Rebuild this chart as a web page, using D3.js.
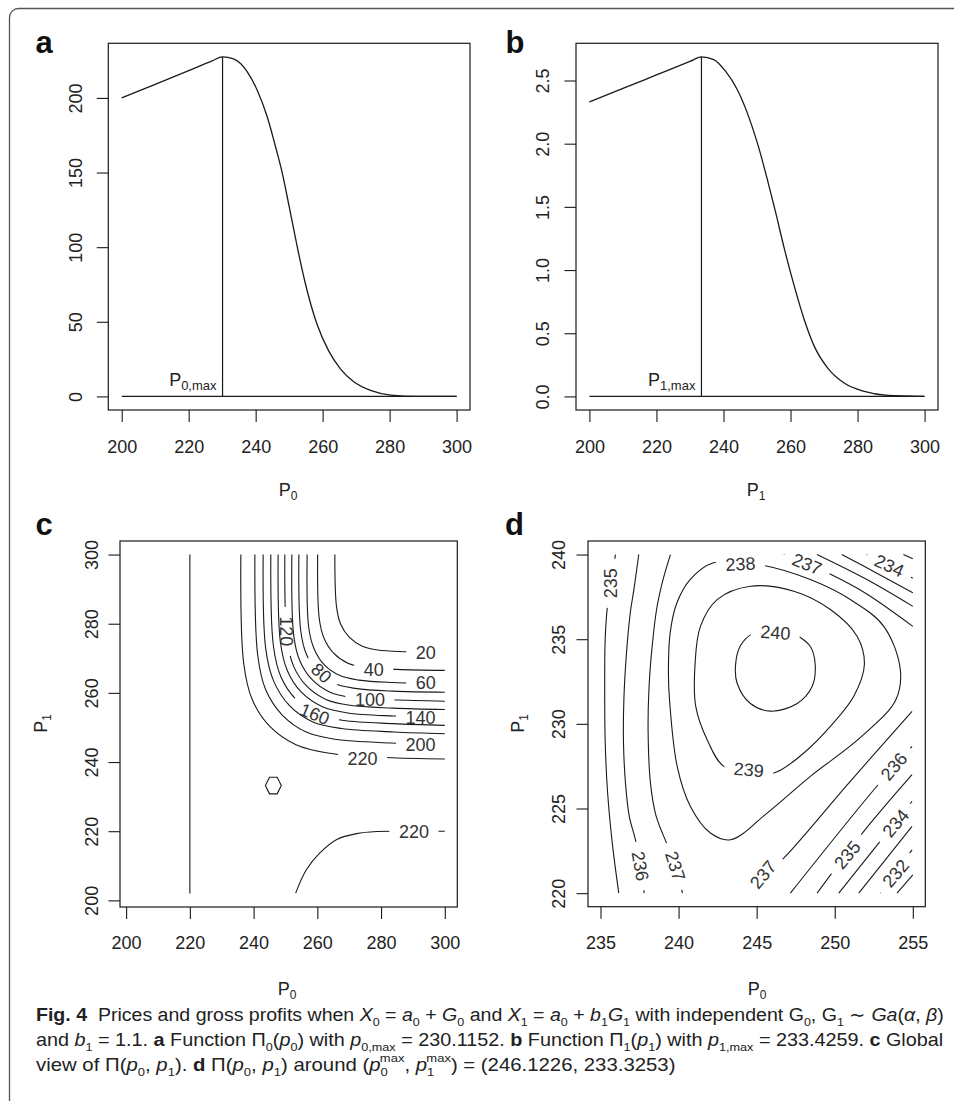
<!DOCTYPE html>
<html>
<head>
<meta charset="utf-8">
<script src="https://cdn.jsdelivr.net/npm/d3@7"></script>
<style>
body{margin:0;background:#fff}
text{font-family:"Liberation Sans",Arial,Helvetica,sans-serif}
</style>
</head>
<body>
<svg id="fig" width="954" height="1101"></svg>
<script>
// ---- data ----
// panel a: Pi_0(p0)
var pi0Curve = [[200,200],[210,209.1],[220,218.3],[227,224.8],[230.1,227.5],[233.4,226.1],[237.4,217.8],[240.4,205.5],
  [243.4,187.7],[245.9,167.6],[247.9,150.1],[250.0,127.3],[252.3,101.5],[254.8,76.0],[258.3,48.5],[261.8,30.5],
  [265.3,18.5],[269.3,9.8],[274.3,4.0],[280.3,0.9],[288.2,0.05],[300,0]];
// panel b: Pi_1(p1)
var pi1Curve = [[200,2.331],[210,2.437],[220,2.544],[230,2.651],[233.4,2.687],[237.1,2.666],[240.6,2.574],[244.1,2.429],
  [247.1,2.244],[250.1,2.006],[253.1,1.716],[255.6,1.452],[258.1,1.175],[261.1,0.875],[264.1,0.607],[267.1,0.396],
  [271.1,0.224],[276.0,0.106],[282.0,0.040],[289.0,0.008],[300,0]];
var pMax0 = 230.1152, pMax1 = 233.4259;
var peak0 = 227.5, peak1 = 2.687;

var ticksA_x = [200,220,240,260,280,300];
var ticksA_y = [0,50,100,150,200];
var ticksB_y = [0,0.5,1,1.5,2,2.5];
var ticksC = [200,220,240,260,280,300];
var ticksD_x = [235,240,245,250,255];
var ticksD_y = [220,225,230,235,240];

// panel c: global contours of Pi(p0,p1); labs = [p0, p1, angle]
var contC = [
 {level:20, pts:[[265.5,300],[266.0,285.1],[267.3,279.9],[270.0,276.1],[274.1,273.5],[279.0,272.4],[288.0,271.9],[300,271.6]], labs:[[294.0,271.7,0]]},
 {level:40, pts:[[260.1,300],[260.6,281.5],[262.1,275.8],[265.1,271.5],[269.6,268.6],[275.1,267.4],[285.1,266.8],[300,266.5]], labs:[[277.7,266.9,0]]},
 {level:60, pts:[[256.8,300],[257.3,278.9],[259.0,272.7],[262.2,268.1],[267.1,265.0],[273.0,263.7],[283.8,263.0],[300,262.7]], labs:[[294.0,262.9,0]]},
 {level:80, pts:[[254.2,300],[254.8,277.9],[256.6,271.1],[260.1,266.1],[265.4,262.7],[271.9,261.3],[283.7,260.5],[300,260.2]], labs:[[261.3,265.8,42]]},
 {level:100, pts:[[252.0,300],[252.6,276.5],[254.5,269.3],[258.3,263.9],[264.0,260.2],[270.9,258.7],[283.5,258.0],[300,257.6]], labs:[[276.5,258.1,0]]},
 {level:120, pts:[[249.8,300],[250.5,275.6],[252.5,267.8],[256.6,262.0],[262.7,258.1],[270.2,256.4],[283.8,255.6],[300,255.2]], labs:[[250.4,277.8,90]]},
 {level:140, pts:[[247.7,300],[248.4,274.8],[250.6,266.4],[255.0,260.2],[261.6,256.0],[269.6,254.2],[284.2,253.3],[300,252.9]], labs:[[292.4,252.8,0]]},
 {level:160, pts:[[245.4,300],[246.2,273.7],[248.5,264.8],[253.1,258.3],[260.0,253.8],[268.5,252.0],[283.9,251.1],[300,250.6]], labs:[[259.2,253.9,22]]},
 {level:180, pts:[[243.0,300],[243.8,272.8],[246.3,263.4],[251.2,256.4],[258.6,251.6],[267.6,249.7],[284.0,248.7],[300,248.2]], labs:[]},
 {level:200, pts:[[240.4,300],[241.3,270.8],[243.8,260.9],[249.0,253.6],[256.7,248.6],[266.2,246.5],[283.4,245.5],[300,245.0]], labs:[[292.4,245.0,0]]},
 {level:220, pts:[[236.0,300],[236.9,268.5],[239.6,258.0],[245.1,250.3],[253.3,245.0],[263.3,242.6],[281.5,241.3],[300,240.9]], labs:[[274.2,241.1,0]]},
 {level:220, pts:[[253.2,202.1],[256.6,208.9],[260.8,213.7],[266.1,217.6],[272.3,219.3],[278.6,219.9],[300,220.0]], labs:[[290.3,220.0,0]]},
 {level:null, pts:[[220,202],[220,300]], labs:[]},
 {level:null, hex:true, pts:[[243.7,233.2],[245.0,235.6],[247.4,235.6],[248.7,233.2],[247.4,230.8],[245.0,230.8]], labs:[]}
];

// panel d: contours around the maximum
var contD = [
 {level:235, pts:[[236.17,220],[235.75,223],[235.45,226],[235.3,229],[235.27,232],[235.3,235],[235.45,237],[235.7,238.5],[235.96,240]], labs:[[235.62,238.3,-90]]},
 {level:236, pts:[[237.45,240],[237.15,238],[236.9,236.5],[236.65,234],[236.5,231.5],[236.47,229],[236.6,226.5],[236.85,224.5],[237.24,223.15],[237.56,221.6],[237.8,220]], labs:[[237.56,221.6,80]]},
 {level:237, pts:[[239.48,240],[239.0,238.5],[238.6,236.8],[238.3,234.5],[238.1,232],[238.05,229.5],[238.2,226.5],[238.55,224.6],[239.27,222.86],[239.8,221.6],[240.25,220]], labs:[[239.8,221.6,72]]},
 {level:238, closed:true, pts:[[243.96,239.45],[245.46,239.35],[248.44,238.52],[251.0,237.34],[253.14,235.76],[254.2,233.2],[253.9,231.4],[251.65,229.2],[248.44,226.9],[245.67,224.73],[243.32,223.15],[242.04,223.55],[240.76,225.12],[239.91,227.49],[239.42,231.43],[239.35,233.0],[239.46,235.37],[239.89,237.14],[240.74,238.52],[242.23,239.51]], labs:[[243.96,239.45,-3]]},
 {level:239, closed:true, pts:[[244.5,227.25],[246.1,227.1],[248.02,228.28],[249.72,229.85],[251.22,231.63],[251.9,233.5],[251.43,235.17],[249.72,236.75],[247.38,237.83],[244.6,238.13],[242.47,237.34],[241.4,235.76],[241.06,233.6],[241.1,231.03],[241.83,229.06],[242.9,227.49]], labs:[[244.5,227.3,5]]},
 {level:240, closed:true, pts:[[246.1,235.55],[247.1,235.4],[247.8,235.1],[248.45,234.55],[248.75,233.5],[248.55,232.2],[247.6,231.2],[245.9,230.75],[244.6,231.2],[243.75,232.4],[243.65,233.5],[243.95,234.6],[244.7,235.3]], labs:[[246.2,235.4,4]]},
 {level:237, pts:[[246.74,240],[248.23,239.45],[249.8,238.8],[252.0,237.7],[255,235.76]], labs:[[248.23,239.45,22]]},
 {level:236, pts:[[248.86,240],[252.0,238.55],[255,236.94]], labs:[]},
 {level:235, pts:[[250.45,240],[252.7,238.9],[255,237.74]], labs:[]},
 {level:234, pts:[[252.05,240],[253.5,239.35],[255,238.6]], labs:[[253.5,239.35,25]]},
 {level:233, pts:[[254.4,240],[255,239.75]], labs:[]},
 {level:237, pts:[[244.39,220],[246.84,222.17],[250.8,226.4],[254.95,230.74]], labs:[[245.4,221.1,-50]]},
 {level:236, pts:[[247.16,220],[252.6,226.21],[254.95,228.67]], labs:[[253.78,227.49,-50]]},
 {level:235, pts:[[248.87,220],[251.86,223.65],[254.95,227.0]], labs:[[250.79,222.27,-50]]},
 {level:234, pts:[[250.26,220],[254.95,225.42]], labs:[[253.89,224.14,-50]]},
 {level:233, pts:[[251.54,220],[254.95,223.94]], labs:[]},
 {level:232, pts:[[252.93,220],[254.95,222.56]], labs:[[253.89,221.18,-50]]},
 {level:231, pts:[[253.99,220],[255,221.08]], labs:[]}
];

// caption text runs: [text, style, dx]
var capLine1 = [["Fig. 4","b"],["  Prices and gross profits when ",""],["X","i"],["0","sub"],[" = ",""],["a","i"],["0","sub"],[" + ",""],["G","i"],["0","sub"],
  [" and ",""],["X","i"],["1","sub"],[" = ",""],["a","i"],["0","sub"],[" + ",""],["b","i"],["1","sub"],["G","i"],["1","sub"],
  [" with independent G",""],["0","sub"],[", G",""],["1","sub"],[" \u223C ",""],["Ga","i"],["(",""],["\u03B1","i"],[", ",""],["\u03B2","i"],[")",""]];
var capLine2 = [["and ",""],["b","i"],["1","sub"],[" = 1.1. ",""],["a","b"],[" Function \u03A0",""],["0","sub"],["(",""],["p","i"],["0","sub"],[") with ",""],
  ["p","i"],["0,max","sub"],[" = 230.1152. ",""],["b","b"],[" Function \u03A0",""],["1","sub"],["(",""],["p","i"],["1","sub"],[") with ",""],
  ["p","i"],["1,max","sub"],[" = 233.4259. ",""],["c","b"],[" Global",""]];
var capLine3 = [["view of \u03A0(",""],["p","i"],["0","sub"],[", ",""],["p","i"],["1","sub"],["). ",""],["d","b"],[" \u03A0(",""],["p","i"],["0","sub"],[", ",""],
  ["p","i"],["1","sub"],[") around (",""],["p","i"],["0","sub"],["max","sup",-7],[", ",""],["p","i"],["1","sub"],["max","sup",-7],[") = (246.1226, 233.3253)",""]];

// ---- drawing ----
var svg = d3.select("#fig");
var defs = svg.append("defs");
var ink = "#1a1a1a";

svg.append("rect").attr("x",9.5).attr("y",8.5).attr("width",1000).attr("height",1200).attr("rx",9)
  .attr("fill","none").attr("stroke","#555").attr("stroke-width",1.3);

function frame(box){
  svg.append("rect").attr("x",box.l).attr("y",box.t).attr("width",box.r-box.l).attr("height",box.b-box.t)
    .attr("fill","none").attr("stroke",ink).attr("stroke-width",1.2);
}

function xAxis(x, box, ticks, lab, fmt){
  var g = svg.append("g").attr("transform","translate(0,"+box.b+")")
    .call(d3.axisBottom(x).tickValues(ticks).tickSize(12).tickSizeOuter(0).tickFormat(fmt));
  g.attr("font-family",null).attr("font-size",null);
  g.select(".domain").remove();
  g.selectAll("line").attr("stroke",ink).attr("stroke-width",1.1);
  g.selectAll("text").attr("y",lab).attr("dy",null).attr("font-size",18).attr("fill","#222");
}

function yAxis(y, box, ticks, lab, fmt){
  var g = svg.append("g").attr("transform","translate("+box.l+",0)")
    .call(d3.axisLeft(y).tickValues(ticks).tickSize(11.5).tickSizeOuter(0).tickFormat(fmt));
  g.attr("font-family",null).attr("font-size",null);
  g.select(".domain").remove();
  g.selectAll("line").attr("stroke",ink).attr("stroke-width",1.1);
  g.selectAll("text").attr("x",0).attr("y",-lab).attr("dy",null).attr("text-anchor","middle")
    .attr("transform","rotate(-90)").attr("font-size",18).attr("fill","#222");
}

function pTitle(x, y, sub, rot){
  var t = svg.append("text").attr("transform","translate("+x+","+y+")"+(rot ? " rotate(-90)" : ""))
    .attr("text-anchor","middle").attr("font-size",18).attr("fill","#222");
  t.append("tspan").text("P");
  t.append("tspan").text(sub).attr("font-size",12).attr("dy",4);
}

function letter(s, x, y){
  svg.append("text").attr("x",x).attr("y",y).attr("font-size",31).attr("font-weight","bold").attr("fill","#111").text(s);
}

function curvePanel(box, x, y, data, pMax, peak, sub){
  frame(box);
  var line = d3.line().x(function(d){return x(d[0]);}).y(function(d){return y(d[1]);}).curve(d3.curveMonotoneX);
  svg.append("path").datum(data).attr("d",line).attr("fill","none").attr("stroke",ink).attr("stroke-width",1.3);
  svg.append("line").attr("x1",x(200)).attr("x2",x(300)).attr("y1",y(0)).attr("y2",y(0)).attr("stroke",ink).attr("stroke-width",1.3);
  svg.append("line").attr("x1",x(pMax)).attr("x2",x(pMax)).attr("y1",y(0)).attr("y2",y(peak)).attr("stroke",ink).attr("stroke-width",1.2);
  var t = svg.append("text").attr("x",x(pMax)-6).attr("y",y(0)-10).attr("text-anchor","end").attr("font-size",18).attr("fill","#222");
  t.append("tspan").text("P");
  t.append("tspan").text(sub).attr("font-size",13).attr("dy",4);
}

var mid = 0;
function contourPanel(box, x, y, lines){
  frame(box);
  var g = svg.append("g");
  var labG = svg.append("g");
  lines.forEach(function(c){
    var line = d3.line().x(function(d){return x(d[0]);}).y(function(d){return y(d[1]);})
      .curve(c.hex ? d3.curveLinearClosed : (c.closed ? d3.curveCatmullRomClosed : d3.curveCatmullRom));
    var p = g.append("path").datum(c.pts).attr("d",line).attr("fill","none").attr("stroke",ink).attr("stroke-width",1.1);
    if (!c.labs.length) return;
    var id = "m" + (mid++);
    var m = defs.append("mask").attr("id",id).attr("maskUnits","userSpaceOnUse")
      .attr("x",0).attr("y",0).attr("width",954).attr("height",1101);
    m.append("rect").attr("x",0).attr("y",0).attr("width",954).attr("height",1101).attr("fill","white");
    c.labs.forEach(function(l){
      var tr = "translate("+x(l[0])+","+y(l[1])+") rotate("+l[2]+")";
      var t = labG.append("text").attr("transform",tr).attr("text-anchor","middle").attr("dy","0.36em")
        .attr("font-size",18).attr("fill","#333").text(c.level);
      var w = t.node().getComputedTextLength();
      m.append("rect").attr("transform",tr).attr("x",-w/2-9.5).attr("y",-8).attr("width",w+19).attr("height",16).attr("fill","black");
    });
    p.attr("mask","url(#"+id+")");
  });
}

// panel a
var boxA = {l:108.3, r:470, t:43.3, b:410};
var xA = d3.scaleLinear().domain([196,304]).range([boxA.l,boxA.r]);
var yA = d3.scaleLinear().domain([-9.1,236.6]).range([boxA.b,boxA.t]);
curvePanel(boxA, xA, yA, pi0Curve, pMax0, peak0, "0,max");
xAxis(xA, boxA, ticksA_x, 42.7, d3.format("d"));
yAxis(yA, boxA, ticksA_y, 26.6, d3.format("d"));
pTitle(288, 495.7, "0", false);
letter("a", 35.5, 53.3);

// panel b
var boxB = {l:576, r:938, t:43.3, b:410};
var xB = d3.scaleLinear().domain([196,304]).range([boxB.l,boxB.r]);
var yB = d3.scaleLinear().domain([-0.1075,2.7945]).range([boxB.b,boxB.t]);
curvePanel(boxB, xB, yB, pi1Curve, pMax1, peak1, "1,max");
xAxis(xB, boxB, ticksA_x, 42.7, d3.format("d"));
yAxis(yB, boxB, ticksB_y, 27.3, d3.format(".1f"));
pTitle(756, 495.7, "1", false);
letter("b", 505.5, 53.3);

// panel c
var boxC = {l:120, r:457.3, t:541, b:907};
var xC = d3.scaleLinear().domain([198.08,303.92]).range([boxC.l,boxC.r]);
var yC = d3.scaleLinear().domain([198.08,303.92]).range([boxC.b,boxC.t]);
contourPanel(boxC, xC, yC, contC);
xAxis(xC, boxC, ticksC, 42.3, d3.format("d"));
yAxis(yC, boxC, ticksC, 22.3, d3.format("d"));
pTitle(287, 995, "0", false);
pTitle(46.7, 723.5, "1", true);
letter("c", 35.5, 535);

// panel d
var boxD = {l:588, r:925.3, t:541, b:906.7};
var xD = d3.scaleLinear().domain([234.2,255.8]).range([boxD.l,boxD.r]);
var yD = d3.scaleLinear().domain([219.2,240.8]).range([boxD.b,boxD.t]);
contourPanel(boxD, xD, yD, contD);
xAxis(xD, boxD, ticksD_x, 42.3, d3.format("d"));
yAxis(yD, boxD, ticksD_y, 23.3, d3.format("d"));
pTitle(757, 995, "0", false);
pTitle(523.7, 723.5, "1", true);
letter("d", 505, 535);

// caption
var capFont = "'Liberation Sans',Arial,sans-serif";
function capLine(segs, yb, width){
  var t = svg.append("text").attr("font-size",18).attr("fill","#222").style("font-family",capFont).style("white-space","pre");
  var shift = 0;
  segs.forEach(function(s){
    var st = s[1].split(" "), want = 0, fs = 18;
    if (st.indexOf("sub") >= 0){ want = 4.5; fs = 11.5; }
    if (st.indexOf("sup") >= 0){ want = -9.5; fs = 11.5; }
    var ts = t.append("tspan").text(s[0]).attr("font-size",fs);
    if (want - shift !== 0) ts.attr("dy", want - shift);
    shift = want;
    if (st.indexOf("b") >= 0) ts.attr("font-weight","bold");
    if (st.indexOf("i") >= 0) ts.attr("font-style","italic");
    if (s[2]) ts.attr("dx", s[2]);
  });
  var bw = t.node().getBBox().width;
  t.attr("transform","translate(36,"+yb+") scale("+(width/bw)+",1)");
}
capLine(capLine1, 1021, 908);
capLine(capLine2, 1046, 908);
capLine(capLine3, 1071, 640);
</script>
</body>
</html>
